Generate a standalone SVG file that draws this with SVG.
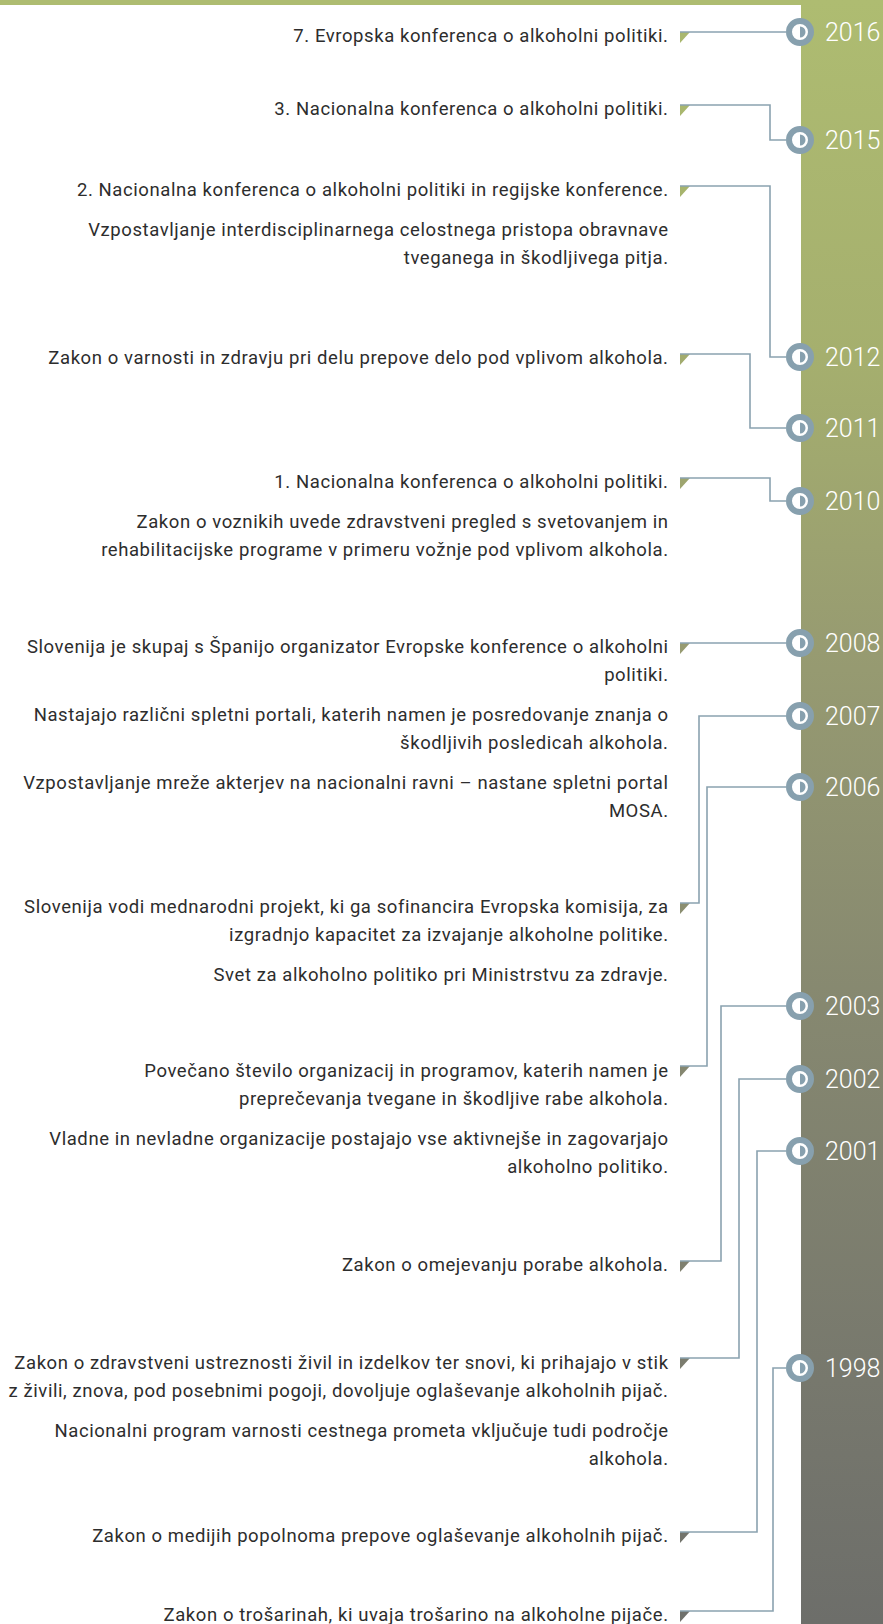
<svg xmlns="http://www.w3.org/2000/svg" width="883" height="1624" viewBox="0 0 883 1624">
<defs>
<linearGradient id="band" x1="0" y1="0" x2="0" y2="1">
<stop offset="0" stop-color="#aebc71"/>
<stop offset="0.22" stop-color="#a5af6e"/>
<stop offset="0.4" stop-color="#979b71"/>
<stop offset="0.62" stop-color="#868870"/>
<stop offset="0.85" stop-color="#77786d"/>
<stop offset="1" stop-color="#6d6e6a"/>
</linearGradient>
<g id="dot">
<circle r="11" fill="#fff" stroke="#87a0ae" stroke-width="6"/>
<path d="M0,-5.5 A5.5,5.5 0 0 1 0,5.5 Z" fill="#87a0ae"/>
</g>
<path id="tri" d="M0,0 H10 L0,11 Z"/>
</defs>
<style>
.t{font-family:Roboto,"Liberation Sans",sans-serif;font-size:18.5px;letter-spacing:0.58px;fill:#2d2d2d;text-anchor:end}
.y{font-family:Roboto,"Liberation Sans",sans-serif;font-weight:300;font-size:25px;fill:#fff}
.c{fill:none;stroke:#8aa2b0;stroke-width:1.6}
</style>
<rect x="0" y="0" width="801" height="5" fill="#aebc71"/>
<rect x="801" y="0" width="82" height="1624" fill="url(#band)"/>
<g id="markers">
<use href="#tri" x="680" y="32" fill="#a9b76e"/>
<use href="#tri" x="680" y="105" fill="#a9b76e"/>
<use href="#tri" x="680" y="186" fill="#a7b46d"/>
<use href="#tri" x="680" y="354" fill="#a2ab6e"/>
<use href="#tri" x="680" y="478" fill="#9ea56f"/>
<use href="#tri" x="680" y="643" fill="#979b71"/>
<use href="#tri" x="680" y="903" fill="#8b8e70"/>
<use href="#tri" x="680" y="1066" fill="#858770"/>
<use href="#tri" x="680" y="1261" fill="#7f806f"/>
<use href="#tri" x="680" y="1358" fill="#7b7c6e"/>
<use href="#tri" x="680" y="1532" fill="#73746c"/>
<use href="#tri" x="680" y="1611" fill="#6f706b"/>
</g>
<g id="connectors">
<path class="c" d="M680,32 H786"/>
<path class="c" d="M680,105 H770 V140 H786"/>
<path class="c" d="M680,186 H770 V357 H786"/>
<path class="c" d="M680,354 H750 V428 H786"/>
<path class="c" d="M680,478 H770 V501 H786"/>
<path class="c" d="M680,643 H786"/>
<path class="c" d="M786,716 H699 V903 H680"/>
<path class="c" d="M786,787 H707 V1066 H680"/>
<path class="c" d="M786,1006 H721 V1261 H680"/>
<path class="c" d="M786,1079 H739 V1358 H680"/>
<path class="c" d="M786,1151 H757 V1532 H680"/>
<path class="c" d="M786,1368 H773 V1611 H680"/>
</g>
<g id="y2016"><use href="#dot" x="800" y="32"/><text class="y" x="825" y="41">2016</text></g>
<g id="y2015"><use href="#dot" x="800" y="140"/><text class="y" x="825" y="149">2015</text></g>
<g id="y2012"><use href="#dot" x="800" y="357"/><text class="y" x="825" y="366">2012</text></g>
<g id="y2011"><use href="#dot" x="800" y="428"/><text class="y" x="825" y="437">2011</text></g>
<g id="y2010"><use href="#dot" x="800" y="501"/><text class="y" x="825" y="510">2010</text></g>
<g id="y2008"><use href="#dot" x="800" y="643"/><text class="y" x="825" y="652">2008</text></g>
<g id="y2007"><use href="#dot" x="800" y="716"/><text class="y" x="825" y="725">2007</text></g>
<g id="y2006"><use href="#dot" x="800" y="787"/><text class="y" x="825" y="796">2006</text></g>
<g id="y2003"><use href="#dot" x="800" y="1006"/><text class="y" x="825" y="1015">2003</text></g>
<g id="y2002"><use href="#dot" x="800" y="1079"/><text class="y" x="825" y="1088">2002</text></g>
<g id="y2001"><use href="#dot" x="800" y="1151"/><text class="y" x="825" y="1160">2001</text></g>
<g id="y1998"><use href="#dot" x="800" y="1368"/><text class="y" x="825" y="1377">1998</text></g>
<g id="events">
<text class="t" x="668.6" y="42">7. Evropska konferenca o alkoholni politiki.</text>
<text class="t" x="668.6" y="115">3. Nacionalna konferenca o alkoholni politiki.</text>
<text class="t" x="668.6" y="196">2. Nacionalna konferenca o alkoholni politiki in regijske konference.</text>
<text class="t" x="668.6" y="236">Vzpostavljanje interdisciplinarnega celostnega pristopa obravnave</text>
<text class="t" x="668.6" y="264">tveganega in škodljivega pitja.</text>
<text class="t" x="668.6" y="364">Zakon o varnosti in zdravju pri delu prepove delo pod vplivom alkohola.</text>
<text class="t" x="668.6" y="488">1. Nacionalna konferenca o alkoholni politiki.</text>
<text class="t" x="668.6" y="528">Zakon o voznikih uvede zdravstveni pregled s svetovanjem in</text>
<text class="t" x="668.6" y="556">rehabilitacijske programe v primeru vožnje pod vplivom alkohola.</text>
<text class="t" x="668.6" y="653">Slovenija je skupaj s Španijo organizator Evropske konference o alkoholni</text>
<text class="t" x="668.6" y="681">politiki.</text>
<text class="t" x="668.6" y="721">Nastajajo različni spletni portali, katerih namen je posredovanje znanja o</text>
<text class="t" x="668.6" y="749">škodljivih posledicah alkohola.</text>
<text class="t" x="668.6" y="789">Vzpostavljanje mreže akterjev na nacionalni ravni – nastane spletni portal</text>
<text class="t" x="668.6" y="817">MOSA.</text>
<text class="t" x="668.6" y="913">Slovenija vodi mednarodni projekt, ki ga sofinancira Evropska komisija, za</text>
<text class="t" x="668.6" y="941">izgradnjo kapacitet za izvajanje alkoholne politike.</text>
<text class="t" x="668.6" y="981">Svet za alkoholno politiko pri Ministrstvu za zdravje.</text>
<text class="t" x="668.6" y="1077">Povečano število organizacij in programov, katerih namen je</text>
<text class="t" x="668.6" y="1105">preprečevanja tvegane in škodljive rabe alkohola.</text>
<text class="t" x="668.6" y="1145">Vladne in nevladne organizacije postajajo vse aktivnejše in zagovarjajo</text>
<text class="t" x="668.6" y="1173">alkoholno politiko.</text>
<text class="t" x="668.6" y="1271">Zakon o omejevanju porabe alkohola.</text>
<text class="t" x="668.6" y="1369">Zakon o zdravstveni ustreznosti živil in izdelkov ter snovi, ki prihajajo v stik</text>
<text class="t" x="668.6" y="1397">z živili, znova, pod posebnimi pogoji, dovoljuje oglaševanje alkoholnih pijač.</text>
<text class="t" x="668.6" y="1437">Nacionalni program varnosti cestnega prometa vključuje tudi področje</text>
<text class="t" x="668.6" y="1465">alkohola.</text>
<text class="t" x="668.6" y="1542">Zakon o medijih popolnoma prepove oglaševanje alkoholnih pijač.</text>
<text class="t" x="668.6" y="1621">Zakon o trošarinah, ki uvaja trošarino na alkoholne pijače.</text>
</g>
</svg>
